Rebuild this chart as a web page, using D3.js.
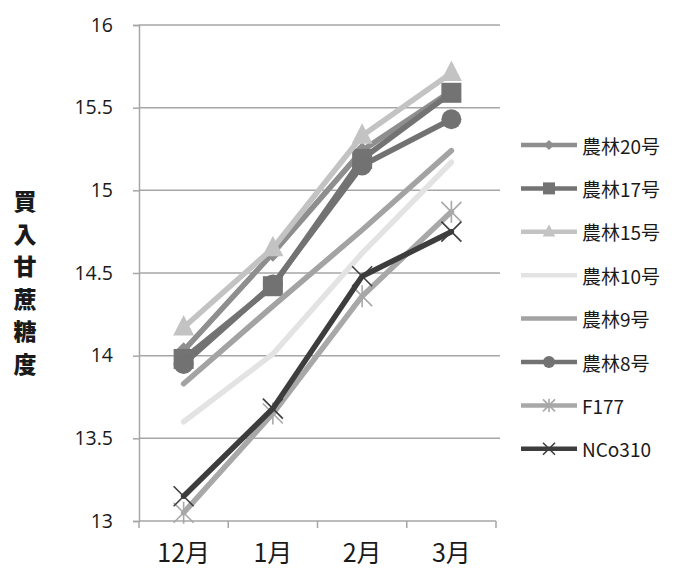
<!DOCTYPE html>
<html>
<head>
<meta charset="utf-8">
<script src="https://cdn.jsdelivr.net/npm/d3@7"></script>
<style>
  body { margin: 0; background: #fff; }
  svg text { font-family: "Noto Sans CJK JP", "Noto Sans", sans-serif; fill: #1a1a1a; }
</style>
</head>
<body>
<svg id="chart" width="675" height="577"></svg>
<script>
// Months on the x axis
const months = ["12月", "1月", "2月", "3月"];
// Sugar content per cultivar
const norin20 = [14.03, 14.62, 15.24, 15.60];
const norin17 = [13.98, 14.42, 15.19, 15.59];
const norin15 = [14.17, 14.65, 15.33, 15.71];
const norin10 = [13.60, 14.01, 14.62, 15.17];
const norin9  = [13.83, 14.30, 14.76, 15.24];
const norin8  = [13.95, 14.43, 15.15, 15.43];
const f177    = [13.05, 13.65, 14.36, 14.87];
const nco310  = [13.15, 13.68, 14.48, 14.75];
const seriesNames = ["農林20号", "農林17号", "農林15号", "農林10号", "農林9号", "農林8号", "F177", "NCo310"];
const yTicks = [13, 13.5, 14, 14.5, 15, 15.5, 16];
const yTitle = "買入甘蔗糖度";

const series = [
  { name: seriesNames[0], values: norin20, color: "#8e8e8e", marker: "diamond" },
  { name: seriesNames[1], values: norin17, color: "#737373", marker: "square" },
  { name: seriesNames[2], values: norin15, color: "#c3c3c3", marker: "triangle" },
  { name: seriesNames[3], values: norin10, color: "#e3e3e3", marker: null },
  { name: seriesNames[4], values: norin9,  color: "#a3a3a3", marker: null },
  { name: seriesNames[5], values: norin8,  color: "#727272", marker: "circle" },
  { name: seriesNames[6], values: f177,    color: "#a8a8a8", marker: "star" },
  { name: seriesNames[7], values: nco310,  color: "#3d3d3d", marker: "x" }
];

const svg = d3.select("#chart");
const plotLeft = 139, plotRight = 496, plotTop = 25, plotBottom = 521;

const x = d3.scaleBand().domain(months).range([plotLeft, plotRight]);
const y = d3.scaleLinear().domain([13, 16]).range([plotBottom, plotTop]);
const cx = m => x(m) + x.bandwidth() / 2;

// Horizontal gridlines
svg.append("g").selectAll("line").data(yTicks.slice(1)).join("line")
  .attr("x1", plotLeft).attr("x2", plotRight + 4)
  .attr("y1", d => y(d)).attr("y2", d => y(d))
  .attr("stroke", "#a6a6a6").attr("stroke-width", 1.5);

// Y axis
const yAxis = svg.append("g").attr("transform", `translate(${plotLeft},0)`)
  .call(d3.axisLeft(y).tickValues(yTicks).tickSize(6).tickPadding(20).tickFormat(d3.format("")));
yAxis.select(".domain").attr("stroke", "#a6a6a6").attr("stroke-width", 1.5);
yAxis.selectAll(".tick line").attr("stroke", "#a6a6a6").attr("stroke-width", 1.5);
yAxis.selectAll(".tick text").attr("font-size", 19.5).attr("fill", "#1a1a1a")
  .style("font-family", "'Open Sans', 'Noto Sans', sans-serif");

// X axis
const xAxis = svg.append("g").attr("transform", `translate(0,${plotBottom})`)
  .call(d3.axisBottom(x).tickSize(0));
xAxis.select(".domain").attr("stroke", "#a6a6a6").attr("stroke-width", 1.5)
  .attr("d", `M${plotLeft},0H${plotRight}`);
xAxis.selectAll(".tick text").attr("font-size", 25).attr("fill", "#1a1a1a")
  .attr("y", 30).attr("dy", null).attr("dominant-baseline", "central");
// Category boundary ticks
const bounds = months.map(m => x(m)).concat([plotRight]);
svg.append("g").selectAll("line").data(bounds).join("line")
  .attr("x1", d => d).attr("x2", d => d)
  .attr("y1", plotBottom).attr("y2", plotBottom + 7)
  .attr("stroke", "#a6a6a6").attr("stroke-width", 1.5);

// Y axis title, stacked vertically
svg.append("g").selectAll("text").data(Array.from(yTitle)).join("text")
  .attr("x", 25).attr("y", (d, i) => 200 + i * 32.5)
  .attr("text-anchor", "middle").attr("dominant-baseline", "central")
  .attr("font-size", 23).attr("font-weight", 900).text(d => d);

function drawMarker(g, type, px, py, color, s) {
  if (!type) return;
  if (type === "diamond") {
    const r = s * 0.85;
    g.append("path").attr("d", `M${px},${py - r}L${px + r},${py}L${px},${py + r}L${px - r},${py}Z`).attr("fill", color);
  } else if (type === "square") {
    g.append("rect").attr("x", px - s).attr("y", py - s).attr("width", 2 * s).attr("height", 2 * s).attr("fill", color);
  } else if (type === "triangle") {
    g.append("path").attr("d", `M${px},${py - s * 1.25}L${px + s * 1.05},${py + s * 0.8}L${px - s * 1.05},${py + s * 0.8}Z`).attr("fill", color);
  } else if (type === "circle") {
    g.append("circle").attr("cx", px).attr("cy", py).attr("r", s).attr("fill", color);
  } else if (type === "star") {
    const r = s;
    [[-r, -r, r, r], [-r, r, r, -r], [0, -r * 1.1, 0, r * 1.1]].forEach(p =>
      g.append("line").attr("x1", px + p[0]).attr("y1", py + p[1]).attr("x2", px + p[2]).attr("y2", py + p[3])
        .attr("stroke", color).attr("stroke-width", 1.6));
  } else if (type === "x") {
    const r = s;
    [[-r, -r, r, r], [-r, r, r, -r]].forEach(p =>
      g.append("line").attr("x1", px + p[0]).attr("y1", py + p[1]).attr("x2", px + p[2]).attr("y2", py + p[3])
        .attr("stroke", color).attr("stroke-width", 1.6));
  }
}

const line = d3.line().x((d, i) => cx(months[i])).y(d => y(d));

// Series lines and markers
series.forEach(s => {
  const g = svg.append("g");
  g.append("path").datum(s.values).attr("d", line)
    .attr("fill", "none").attr("stroke", s.color).attr("stroke-width", 5.5)
    .attr("stroke-linejoin", "round").attr("stroke-linecap", "round");
  s.values.forEach((v, i) => drawMarker(g, s.marker, cx(months[i]), y(v), s.color, 10));
});

// Legend
const lg = svg.append("g");
series.forEach((s, i) => {
  const ly = 145 + i * 43.4;
  lg.append("line").attr("x1", 521).attr("x2", 577).attr("y1", ly).attr("y2", ly)
    .attr("stroke", s.color).attr("stroke-width", 4.5);
  drawMarker(lg, s.marker, 549, ly, s.color, 6);
  lg.append("text").attr("x", 582).attr("y", ly).attr("dominant-baseline", "central")
    .attr("font-size", 19).text(s.name);
});
</script>
</body>
</html>
